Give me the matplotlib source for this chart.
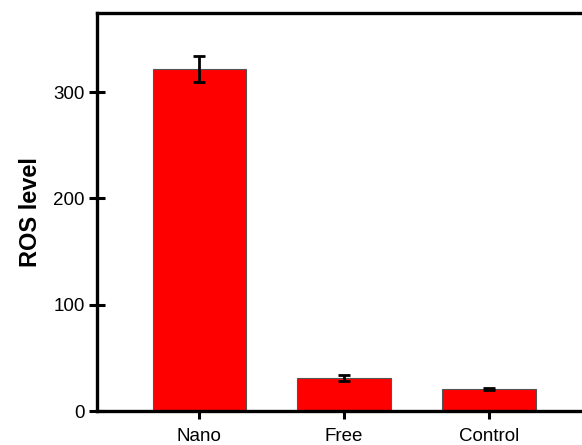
import matplotlib
matplotlib.use("Agg")
import matplotlib.pyplot as plt
import numpy as np

plt.rcParams['font.family'] = ['Liberation Sans', 'DejaVu Sans']

# data
groups = ['Nano', 'Free', 'Control']
ros = [322, 31, 20.5]
ros_err = [12, 2.5, 1.2]

fig = plt.figure(figsize=(5.82, 4.45), dpi=100)
fig.patch.set_facecolor('white')

# axes runs off the right edge of the canvas, like the reference
ax = fig.add_axes([97.5 / 582, 34 / 445, (582 - 97.5) / 582, (411 - 12.5) / 445])

x = np.arange(len(groups))
ax.bar(x, ros, width=0.644, color='#ff0000', edgecolor='#555555', linewidth=0.8, zorder=2)
ax.errorbar(x, ros, yerr=ros_err, fmt='none', ecolor='black',
            elinewidth=2, capsize=4, capthick=2, zorder=3)

ax.set_xlim(-0.703, 2.643)
ax.set_ylim(0, 375)
ax.set_yticks([0, 100, 200, 300])
ax.set_xticks(x)
ax.set_xticklabels(groups)

for side in ['left', 'bottom', 'top']:
    ax.spines[side].set_linewidth(2.4)
ax.spines['right'].set_visible(False)

ax.tick_params(axis='both', direction='inout', length=12, width=2.2,
               labelsize=13.5, pad=3)
ax.tick_params(axis='x', pad=6)
ax.set_ylabel('ROS level', fontsize=17, fontweight='bold', labelpad=8)

fig.savefig('out.png', dpi=100, facecolor='white')
